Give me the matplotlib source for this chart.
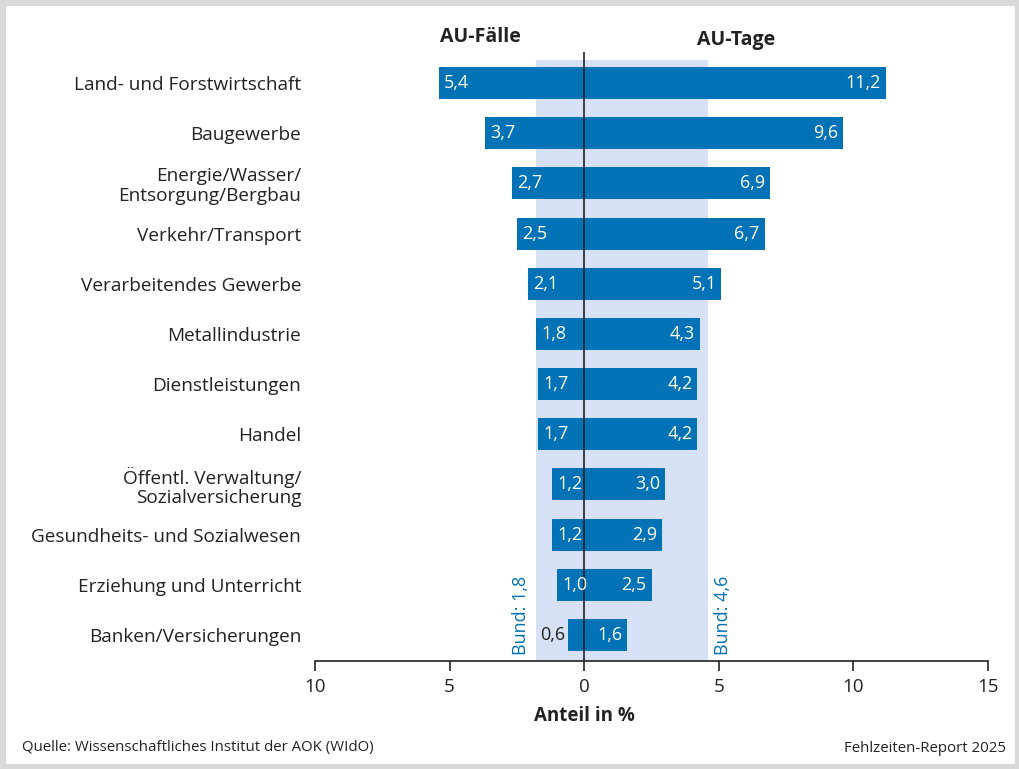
import numpy as np
import matplotlib.pyplot as plt
from matplotlib.patches import Rectangle

plt.rcParams["font.family"] = ["Open Sans", "DejaVu Sans"]

categories = [
    "Land- und Forstwirtschaft",
    "Baugewerbe",
    "Energie/Wasser/\nEntsorgung/Bergbau",
    "Verkehr/Transport",
    "Verarbeitendes Gewerbe",
    "Metallindustrie",
    "Dienstleistungen",
    "Handel",
    "Öffentl. Verwaltung/\nSozialversicherung",
    "Gesundheits- und Sozialwesen",
    "Erziehung und Unterricht",
    "Banken/Versicherungen",
]
au_faelle = [5.4, 3.7, 2.7, 2.5, 2.1, 1.8, 1.7, 1.7, 1.2, 1.2, 1.0, 0.6]
au_tage = [11.2, 9.6, 6.9, 6.7, 5.1, 4.3, 4.2, 4.2, 3.0, 2.9, 2.5, 1.6]
bund_faelle = 1.8
bund_tage = 4.6
xticks = [-10, -5, 0, 5, 10, 15]

BLUE = "#0072b5"
BAND = "#d7e1f5"


def fmt(v):
    return f"{v:.1f}".replace(".", ",")


fig = plt.figure(figsize=(10.2, 7.69), dpi=100)
W, H = 1020, 769

# grauer Rahmen
fig.patches.append(Rectangle((0, 0), 1, 1, transform=fig.transFigure,
                             facecolor="white", edgecolor="#d9d9d9",
                             linewidth=8, zorder=-10))

ax = fig.add_axes([315 / W, 1 - 661 / H, (988 - 315) / W, (661 - 52) / H])
y = np.arange(len(categories))
ylo, yhi = 11.52, -0.62
ax.set_ylim(ylo, yhi)
ax.set_xlim(-10, 15)

# Bund-Band
ax.fill_between([-bund_faelle, bund_tage], ylo, -0.46, color=BAND, lw=0, zorder=0)

ax.barh(y, [-v for v in au_faelle], height=0.64, color=BLUE, zorder=2)
ax.barh(y, au_tage, height=0.64, color=BLUE, zorder=2)
ax.axvline(0, color="#222222", lw=1.2, zorder=3)

for i, (f, t) in enumerate(zip(au_faelle, au_tage)):
    if f >= 0.9:
        ax.text(-f + 0.2, i, fmt(f), color="white", va="center", ha="left",
                fontsize=13, zorder=4)
    else:
        ax.text(-f - 0.12, i, fmt(f), color="#222222", va="center", ha="right",
                fontsize=13, zorder=4)
    ax.text(t - 0.18, i, fmt(t), color="white", va="center", ha="right",
            fontsize=13, zorder=4)

ax.text(-bund_faelle - 0.2, 11.4, f"Bund: {fmt(bund_faelle)}", rotation=90,
        color=BLUE, ha="right", va="bottom", fontsize=13)
ax.text(bund_tage + 0.22, 11.4, f"Bund: {fmt(bund_tage)}", rotation=90,
        color=BLUE, ha="left", va="bottom", fontsize=13)

ax.set_yticks(y)
ax.set_yticklabels(categories, fontsize=13.7, color="#222222", linespacing=1.1)
ax.tick_params(axis="y", length=0, pad=10)
ax.set_xticks(xticks)
ax.set_xticklabels([str(abs(v)) for v in xticks], fontsize=13.5, color="#222222")
ax.tick_params(axis="x", length=7, width=1.2, color="#222222", pad=5)
for s in ["top", "right", "left"]:
    ax.spines[s].set_visible(False)
ax.spines["bottom"].set_linewidth(1.2)
ax.spines["bottom"].set_color("#222222")
ax.set_facecolor("none")

fig.text(584 / W, 1 - 716 / H, "Anteil in %", fontsize=13.5, fontweight="bold",
         ha="center", va="center", color="#222222")

fig.text(480 / W, 1 - 37 / H, "AU-Fälle", fontsize=14, fontweight="bold",
         ha="center", va="center", color="#222222")
fig.text(736 / W, 1 - 40 / H, "AU-Tage", fontsize=14, fontweight="bold",
         ha="center", va="center", color="#222222")

fig.text(22 / W, 1 - 748 / H, "Quelle: Wissenschaftliches Institut der AOK (WIdO)",
         fontsize=10.8, ha="left", va="center", color="#222222")
fig.text(1006 / W, 1 - 748 / H, "Fehlzeiten-Report 2025",
         fontsize=10.8, ha="right", va="center", color="#222222")

fig.savefig("out.png", dpi=100)
